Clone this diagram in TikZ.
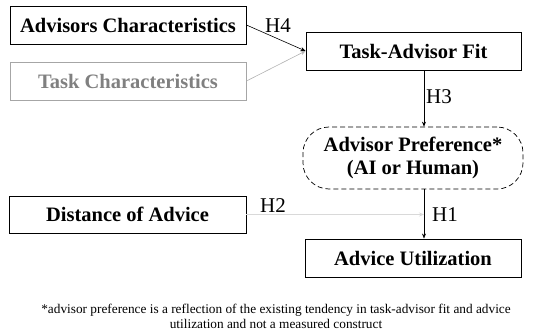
\documentclass[tikz,border=0pt]{standalone}
\usepackage{fontspec}
\setmainfont{Liberation Serif}
\usetikzlibrary{arrows.meta}
\tikzset{
  varbox/.style={draw,line width=0.9pt,font=\fontsize{20.5}{23}\selectfont\bfseries,inner sep=0pt},
  hlab/.style={font=\fontsize{21}{23}\selectfont,inner sep=0pt},
  link/.style={-{Stealth[length=5pt,width=4pt]},line width=0.6pt},
}
\begin{document}
\begin{tikzpicture}[x=1pt,y=-1pt]
\useasboundingbox (0,0) rectangle (543,334);
% constructs
\node[varbox,minimum width=236pt,minimum height=38pt] (adv) at (128,25) {Advisors Characteristics};
\node[varbox,draw=black!35,text=black!50,minimum width=236pt,minimum height=38pt] (task) at (128,81) {Task Characteristics};
\node[varbox,minimum width=215pt,minimum height=38pt] (fit) at (413.5,51) {Task-Advisor Fit};
\node[varbox,dash pattern=on 5pt off 3pt,line width=0.7pt,rounded corners=26pt,align=center,minimum width=220pt,minimum height=62pt] (pref) at (413,158) {Advisor Preference*\\(AI or Human)};
\node[varbox,minimum width=237pt,minimum height=37pt] (dist) at (127.5,214.5) {Distance of Advice};
\node[varbox,minimum width=216pt,minimum height=38pt] (util) at (413,258) {Advice Utilization};
\coordinate (ax) at (424,0);
% paths
\draw[link] (adv.east) -- (fit.west);
\draw[link,black!30] (task.east) -- (fit.west);
\draw[link] (fit.south -| ax) -- (pref.north -| ax);
\draw[link] (pref.south -| ax) -- (util.north -| ax);
\draw[link,black!15] (dist.east) -- (dist.east -| ax);
\node[hlab] (h4) at (278,26) {H4};
\node[hlab,anchor=west] (h3) at (426,97) {H3};
\node[hlab] (h2) at (273,206) {H2};
\node[hlab,anchor=west] (h1) at (432,215) {H1};
\node[font=\fontsize{13.3}{15}\selectfont,align=center,inner sep=0pt] (note) at (276,316)
  {*advisor preference is a reflection of the existing tendency in task-advisor fit and advice\\utilization and not a measured construct};
\end{tikzpicture}
\end{document}
